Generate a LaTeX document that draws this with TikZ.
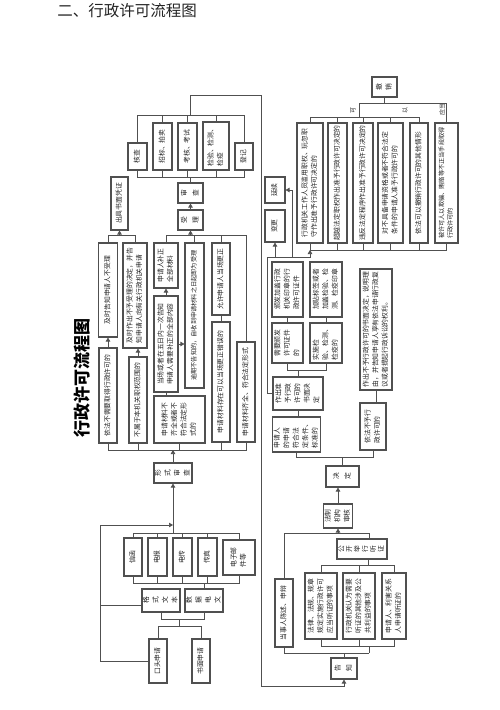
\documentclass[tikz,border=0pt]{standalone}
\usepackage{fontspec}
\setmainfont{Noto Sans CJK SC}
\usepackage{graphicx}
\usetikzlibrary{arrows.meta}
\definecolor{flowink}{RGB}{35,35,35}
\definecolor{flowline}{RGB}{80,80,80}
\newcommand{\rt}[1]{\rotatebox{90}{\begin{tabular}{@{}l@{}}#1\end{tabular}}}
\newcommand{\vt}[1]{\rotatebox{90}{\begin{tabular}{@{}c@{}}#1\end{tabular}}}
\tikzset{
  flowbox/.style={draw=flowline, line width=1.1pt, inner sep=0pt, text=flowink,
    font=\fontsize{6.8}{9.5}\selectfont},
  smallbox/.style={flowbox, font=\fontsize{6.2}{8.5}\selectfont},
  flowwire/.style={draw=flowline, line width=0.7pt},
  flowarrow/.style={flowwire, -{Triangle[length=4pt,width=4.5pt]}},
  flowtag/.style={text=flowink, font=\fontsize{6}{7}\selectfont, inner sep=0pt},
}
\begin{document}
\begin{tikzpicture}[x=1pt,y=1pt]
  \useasboundingbox (0,0) rectangle (500,-710);
  \node[text=flowink, font=\fontsize{15.5}{16}\selectfont] (heading) at (127,-11) {二、行政许可流程图};
  \node[text=black, font=\fontsize{17}{17}\selectfont\bfseries] (charttitle) at (82,-378) {\rotatebox{90}{行政许可流程图}};
  % left part: application and acceptance
  \node[flowbox, minimum width=17, minimum height=53] (chuju) at (119.5,-203.5) {\rt{出具书面凭证}};
  \node[flowbox, minimum width=19, minimum height=94] (bushouli) at (108,-290) {\rt{及时告知申请人不受理}};
  \node[flowbox, minimum width=18, minimum height=95] (buxuyao) at (108,-395.5) {\rt{依法不需要取得行政许可的}};
  \node[flowbox, minimum width=24, minimum height=105] (buyu) at (135,-295.5) {\rt{及时作出不予受理的决定，并告\\知申请人向有关行政机关申请}};
  \node[flowbox, minimum width=18, minimum height=86] (bushu) at (138,-400) {\rt{不属于本机关职权范围的}};
  \node[flowbox, minimum width=24, minimum height=45] (buzheng) at (166,-265.5) {\rt{申请人补正\\全部材料}};
  \node[flowbox, minimum width=24, minimum height=96] (yici) at (166,-344) {\rt{当场或者在五日内一次告知\\申请人需要补正的全部内容}};
  \node[flowbox, minimum width=51, minimum height=47] (buqi) at (179.5,-419.5) {\rt{申请材料不\\齐全或者不\\符合法定形\\式的}};
  \node[smallbox, minimum width=19, minimum height=145] (yuqi) at (194.5,-315.5) {\rt{逾期不告知的，自收到申请材料之日起即为受理}};
  \node[flowbox, minimum width=25, minimum height=20] (shouli) at (190.5,-220) {\vt{受\\[2pt]理}};
  \node[flowbox, minimum width=25, minimum height=20] (shencha) at (190.5,-193) {\vt{审\\[2pt]查}};
  \node[flowbox, minimum width=18, minimum height=72] (gengzheng) at (221,-279) {\rt{允许申请人当场更正}};
  \node[flowbox, minimum width=18, minimum height=120] (cuowu) at (221,-382) {\rt{申请材料存在可以当场更正错误的}};
  \node[flowbox, minimum width=18, minimum height=100] (qiquan) at (246,-392) {\rt{申请材料齐全、符合法定形式}};
  \node[flowbox, minimum width=38, minimum height=20] (xingshi) at (173,-473) {\vt{形\\式\\审\\查}};
  \node[flowbox, minimum width=19, minimum height=27] (hecha) at (137.5,-156.5) {\rt{核查}};
  \node[flowbox, minimum width=19, minimum height=47] (zhaobiao) at (162.5,-146.5) {\rt{招标、拍卖}};
  \node[flowbox, minimum width=19, minimum height=47] (kaohe) at (187.5,-146.5) {\rt{考核、考试}};
  \node[flowbox, minimum width=26, minimum height=48] (jianyan) at (216,-146) {\rt{检验、检测、\\检疫}};
  \node[flowbox, minimum width=18, minimum height=27] (dengji) at (244,-156.5) {\rt{登记}};
  \node[flowbox, minimum width=18, minimum height=38] (xinhan) at (133,-557) {\rt{信函}};
  \node[flowbox, minimum width=19, minimum height=38] (dianbao) at (157.5,-557) {\rt{电报}};
  \node[flowbox, minimum width=19, minimum height=38] (dianchuan) at (182.5,-557) {\rt{电传}};
  \node[flowbox, minimum width=19, minimum height=38] (chuanzhen) at (207.5,-557) {\rt{传真}};
  \node[flowbox, minimum width=32, minimum height=35] (youjian) at (239,-557.5) {\rt{电子邮\\件等}};
  \node[flowbox, minimum width=36, minimum height=23] (geshi) at (161,-600.5) {\vt{格\\式\\文\\本}};
  \node[flowbox, minimum width=38, minimum height=23] (shuju) at (204,-600.5) {\vt{数\\据\\电\\文}};
  \node[flowbox, minimum width=18, minimum height=44] (koutou) at (158,-661) {\rt{口头申请}};
  \node[flowbox, minimum width=18, minimum height=44] (shumian) at (201,-661) {\rt{书面申请}};
  % right part: decision, hearing, change and revocation
  \node[flowbox, minimum width=20, minimum height=26] (yanxu) at (275,-190) {\rt{延续}};
  \node[flowbox, minimum width=20, minimum height=32] (biangeng) at (275,-226) {\rt{变更}};
  \node[flowbox, minimum width=25, minimum height=20] (chexiao) at (384.5,-87) {\vt{撤\\销}};
  \node[flowbox, minimum width=26, minimum height=120] (chx1) at (310,-183) {\rt{行政机关工作人员滥用职权、玩忽职\\守作出准予行政许可决定的}};
  \node[flowbox, minimum width=19, minimum height=120] (chx2) at (337.5,-183) {\rt{超越法定职权作出准予行政许可决定的}};
  \node[flowbox, minimum width=20, minimum height=120] (chx3) at (363,-183) {\rt{违反法定程序作出准予行政许可决定的}};
  \node[flowbox, minimum width=25, minimum height=120] (chx4) at (390.5,-183) {\rt{对不具备申请资格或者不符合法定\\条件的申请人准予行政许可的}};
  \node[flowbox, minimum width=18, minimum height=120] (chx5) at (419,-183) {\rt{依法可以撤销行政许可的其他情形}};
  \node[smallbox, minimum width=23, minimum height=120] (chx6) at (446.5,-183) {\rt{被许可人以欺骗、贿赂等不正当手段取得\\行政许可的}};
  \node[flowtag] (tagke) at (353,-110) {\rotatebox{90}{可}};
  \node[flowtag] (tagyi) at (405,-110) {\rotatebox{90}{以}};
  \node[flowtag] (tagying) at (442,-109) {\rotatebox{90}{应当}};
  \node[flowbox, minimum width=31, minimum height=55] (banfa) at (287.5,-289.5) {\rt{颁发加盖行政\\机关印章的行\\政许可证件}};
  \node[flowbox, minimum width=32, minimum height=55] (jiatie) at (326,-289.5) {\rt{加贴标签或者\\加盖检验、检\\测、检疫印章}};
  \node[flowbox, minimum width=31, minimum height=40] (xuyao) at (287.5,-343) {\rt{需要颁发\\许可证件\\的}};
  \node[flowbox, minimum width=32, minimum height=40] (shishi) at (326,-343) {\rt{实施检\\验、检测、\\检疫的}};
  \node[flowbox, minimum width=50, minimum height=33] (zhunyu) at (298,-393.5) {\rt{作出准\\予行政\\许可的\\书面决\\定}};
  \node[flowbox, minimum width=47, minimum height=35] (fuhe) at (296.5,-434.5) {\rt{申请人\\的申请\\符合法\\定条件、\\标准的}};
  \node[flowbox, minimum width=32, minimum height=121] (buyuxk) at (376,-329.5) {\rt{作出不予行政许可的书面决定，说明理\\由，并告知申请人享有依法申请行政复\\议或者提起行政诉讼的权利。}};
  \node[flowbox, minimum width=26, minimum height=47] (yifabuyu) at (373,-426.5) {\rt{依法不予行\\政许可的}};
  \node[flowbox, minimum width=33, minimum height=21] (jueding) at (342.5,-476.5) {\vt{决\\[2pt]定}};
  \node[flowbox, minimum width=24, minimum height=24] (fazhi) at (338,-516) {\rt{法制\\机构\\审核}};
  \node[flowbox, font=\fontsize{6.8}{7.6}\selectfont, minimum width=50, minimum height=20] (gongkai) at (362,-549) {\vt{公\\开\\举\\行\\听\\证}};
  \node[flowbox, minimum width=32, minimum height=66] (tz1) at (321,-606) {\rt{法律、法规、规章\\规定实施行政许可\\应当听证的事项}};
  \node[flowbox, minimum width=32, minimum height=66] (tz2) at (359,-606) {\rt{行政机关认为需要\\听证的其他涉及公\\共利益的事项}};
  \node[flowbox, minimum width=24, minimum height=66] (tz3) at (394,-606) {\rt{申请人、利害关系\\人申请听证的}};
  \node[flowbox, minimum width=18, minimum height=68] (chenshu) at (284,-613) {\rt{当事人陈述、申辩}};
  \node[flowbox, minimum width=26, minimum height=21] (gaozhi) at (344,-668.5) {\vt{告\\[2pt]知}};
  % connectors, left part
  \draw[flowarrow] (buxuyao.north) -- (bushouli.south);
  \draw[flowarrow] (bushu.north) -- (bushu.north |- buyu.south);
  \draw[flowarrow] (yici.north) -- (buzheng.south);
  \draw[flowwire] (yici.south) -- (yici.south |- buqi.north);
  \draw[flowarrow] (yici.east) -- (yici.east -| yuqi.west);
  \draw[flowwire] (gengzheng.south) -- (cuowu.north);
  \draw[flowwire] (bushouli.north) |- (buyu.north |- 0,-235) -- (buyu.north);
  \draw[flowarrow] (chuju.south |- 0,-235) -- (chuju.south);
  \draw[flowwire] (buzheng.north) |- (qiquan.north |- 0,-235) -- (qiquan.north);
  \draw[flowwire] (yuqi.north) -- (yuqi.north |- 0,-235);
  \draw[flowwire] (gengzheng.north) -- (gengzheng.north |- 0,-235);
  \draw[flowarrow] (shouli.south |- 0,-235) -- (shouli.south);
  \draw[flowarrow] (shouli.north) -- (shencha.south);
  \draw[flowwire] (shencha.north) -- (shencha.north |- 0,-177);
  \draw[flowwire] (hecha.south) |- (dengji.south |- 0,-177) -- (dengji.south);
  \draw[flowwire] (hecha.north) |- (dengji.north |- 0,-115) -- (dengji.north);
  \foreach \b in {zhaobiao,kaohe,jianyan} {
    \draw[flowwire] (\b.north) -- (\b.north |- 0,-115);
    \draw[flowwire] (\b.south) -- (\b.south |- 0,-177);
  }
  \draw[flowarrow] (190,-115) -- (190,-95) -- (261,-95) -- (261,-686) -| (gaozhi.south);
  \draw[flowwire] (buxuyao.south) |- (qiquan.south |- 0,-450) -- (qiquan.south);
  \foreach \b in {bushu,buqi,cuowu}
    \draw[flowwire] (\b.south) -- (\b.south |- 0,-450);
  \draw[flowarrow] (xingshi.north) -- (xingshi.north |- 0,-450);
  \draw[flowwire] (xinhan.north) |- (youjian.north |- 0,-533) -- (youjian.north);
  \draw[flowwire] (xinhan.south) |- (youjian.south |- 0,-583) -- (youjian.south);
  \foreach \b in {dianbao,dianchuan,chuanzhen} {
    \draw[flowwire] (\b.north) -- (\b.north |- 0,-533);
    \draw[flowwire] (\b.south) -- (\b.south |- 0,-583);
  }
  \draw[flowarrow] (xingshi.south |- 0,-533) -- (xingshi.south);
  \draw[flowwire] (shuju.north) -- (shuju.north |- 0,-583);
  \draw[flowwire] (geshi.south) |- (shuju.south |- 0,-619) -- (shuju.south);
  \draw[flowwire] (179,-619) -- (179,-626);
  \draw[flowwire] (koutou.north) |- (shumian.north |- 0,-626) -- (shumian.north);
  \draw[flowarrow] (koutou.west) -| (100,-525) -- (173,-525);
  \draw[flowwire] (100,-605) -- (geshi.west |- 0,-605);
  % connectors, right part
  \draw[flowwire] (chexiao.south) -- (chexiao.south |- 0,-103);
  \draw[flowwire] (359,-117) |- (chx6.north |- 0,-103) -- (chx6.north);
  \draw[flowwire] (chx1.north) |- (chx5.north |- 0,-117) -- (chx5.north);
  \foreach \b in {chx2,chx3,chx4}
    \draw[flowwire] (\b.north) -- (\b.north |- 0,-117);
  \draw[flowwire] (chx1.south) |- (chx6.south |- 0,-250) -- (chx6.south);
  \foreach \b in {chx2,chx3,chx4,chx5}
    \draw[flowwire] (\b.south) -- (\b.south |- 0,-250);
  \draw[flowwire] (zhunyu.west) -| (267,-257);
  \draw[flowarrow] (267,-257) -| (biangeng.south);
  \draw[flowarrow] (267,-257) -| (292,-190) -- (yanxu.east);
  \draw[flowarrow] (267,-257) -| (310,-250);
  \draw[flowwire] (banfa.south) -- (xuyao.north);
  \draw[flowwire] (jiatie.south) -- (shishi.north);
  \draw[flowwire] (xuyao.south) |- (shishi.south |- 0,-370) -- (shishi.south);
  \draw[flowwire] (298,-370) -- (zhunyu.north);
  \draw[flowwire] (zhunyu.south) -- (zhunyu.south |- fuhe.north);
  \draw[flowwire] (buyuxk.south) -- (buyuxk.south |- yifabuyu.north);
  \draw[flowwire] (fuhe.south) |- (yifabuyu.south |- 0,-457) -- (yifabuyu.south);
  \draw[flowwire] (jueding.north) -- (jueding.north |- 0,-457);
  \draw[flowarrow] (fazhi.north) -- (fazhi.north |- jueding.south);
  \draw[flowwire] (chenshu.north) |- (369,-533) -- (369,-539);
  \draw[flowarrow] (fazhi.south |- 0,-533) -- (fazhi.south);
  \draw[flowwire] (368,-559) -- (368,-565);
  \draw[flowwire] (tz1.north) |- (tz3.north |- 0,-565) -- (tz3.north);
  \draw[flowwire] (tz2.north) -- (tz2.north |- 0,-565);
  \draw[flowwire] (tz1.south) |- (tz3.south |- 0,-646) -- (tz3.south);
  \draw[flowwire] (tz2.south) -- (tz2.south |- 0,-646);
  \draw[flowwire] (369,-646) -- (369,-653);
  \draw[flowwire] (chenshu.south) |- (369,-653);
  \draw[flowwire] (gaozhi.north) -- (gaozhi.north |- 0,-653);
\end{tikzpicture}
\end{document}
